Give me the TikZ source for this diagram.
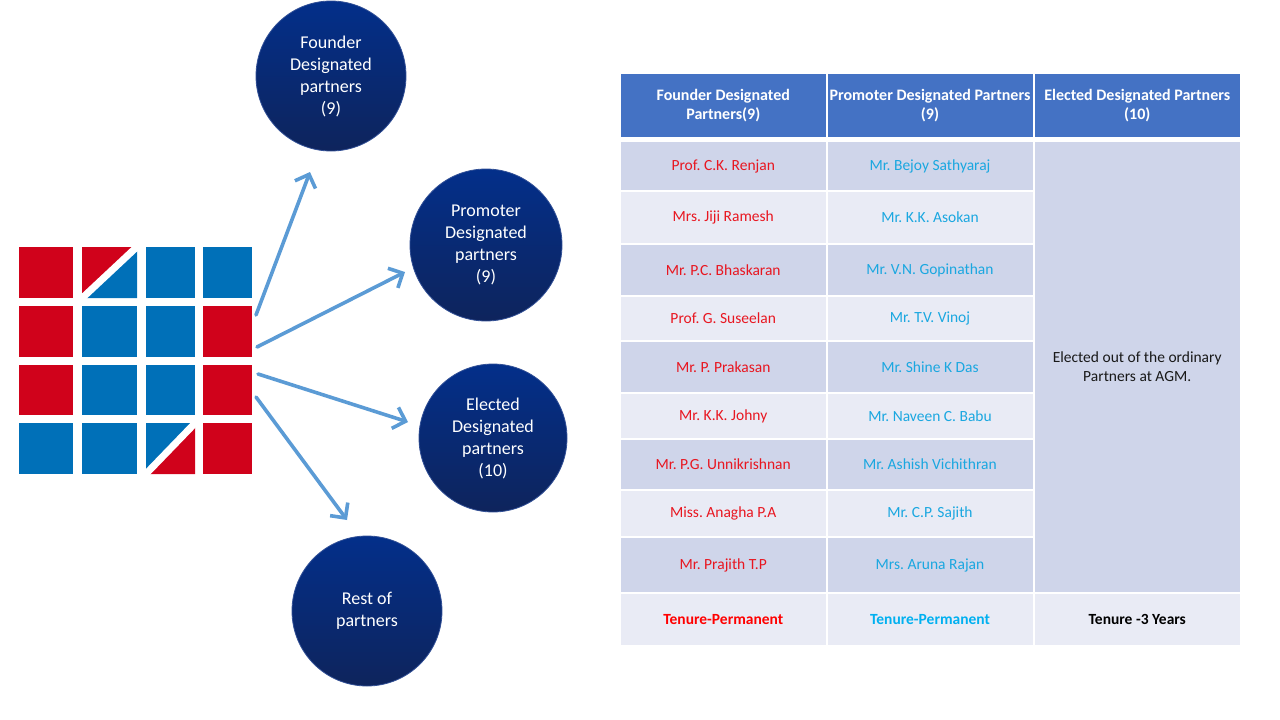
\documentclass[tikz,border=0pt]{standalone}
\usepackage{fontspec}
\setmainfont{Carlito}
\usetikzlibrary{arrows.meta}
\definecolor{lred}{RGB}{208,2,27}
\definecolor{lblue}{RGB}{0,112,184}
\definecolor{arrowc}{RGB}{91,155,213}
\definecolor{hdr}{RGB}{68,114,196}
\definecolor{rowd}{RGB}{207,213,234}
\definecolor{rowl}{RGB}{233,235,245}
\definecolor{namered}{RGB}{232,22,32}
\definecolor{nameblue}{RGB}{26,167,224}
\definecolor{tenred}{RGB}{255,0,0}
\definecolor{tenblue}{RGB}{0,176,240}
\definecolor{ctop}{RGB}{3,47,138}
\definecolor{cbot}{RGB}{14,36,92}
\definecolor{cedge}{RGB}{50,80,150}
\frenchspacing
\begin{document}
\begin{tikzpicture}[x=1pt,y=-1pt,
  circ/.style={circle, minimum size=#1, inner sep=0pt, top color=ctop, bottom color=cbot,
    draw=cedge, line width=0.8pt, text=white, align=center, font=\fontsize{18}{22}\selectfont},
  arr/.style={draw=arrowc, line width=3.6pt, line cap=round,
    -{Straight Barb[length=11pt,width=22pt]}},
  cell/.style={inner sep=0pt, align=center, font=\fontsize{15.5}{19}\selectfont},
  hcell/.style={cell, fill=hdr, text=white, font=\bfseries\fontsize{16}{19}\selectfont, minimum height=63pt},
  tcell/.style={cell, fill=rowl, font=\bfseries\fontsize{15.5}{19}\selectfont, minimum height=51pt},
  c1/.style={minimum width=204.5pt},
  c2/.style={minimum width=205pt},
  c3/.style={minimum width=205.5pt},
  cut/.style={draw=white, line width=7pt}
]
\path[use as bounding box] (0,0) rectangle (1280,720);

% ---------- logo ----------
\fill[lred]  (19,247) rectangle (73,298);
\fill[lred]  (82,247) rectangle (137,298);
\fill[lblue] (137,247) -- (137,298) -- (82,298) -- cycle;
\draw[cut]   (78,302) -- (141,243);
\fill[lblue] (146,247) rectangle (195,298);
\fill[lblue] (203,247) rectangle (252,298);

\fill[lred]  (19,306) rectangle (73,357);
\fill[lblue] (82,306) rectangle (137,357);
\fill[lblue] (146,306) rectangle (195,357);
\fill[lred]  (203,306) rectangle (252,357);

\fill[lred]  (19,365) rectangle (73,415);
\fill[lblue] (82,365) rectangle (137,415);
\fill[lblue] (146,365) rectangle (195,415);
\fill[lred]  (203,365) rectangle (252,415);

\fill[lblue] (19,423) rectangle (73,474);
\fill[lblue] (82,423) rectangle (137,474);
\fill[lblue] (146,423) rectangle (195,474);
\fill[lred]  (195,423) -- (195,474) -- (146,474) -- cycle;
\draw[cut]   (142,478) -- (199,419);
\fill[lred]  (203,423) rectangle (252,474);

% ---------- circles ----------
\node[circ=150pt] (fdp) at (331,76)  {Founder\\Designated\\partners\\(9)};
\node[circ=152pt] (pdp) at (486,245) {Promoter\\Designated\\partners\\(9)};
\node[circ=148pt] (edp) at (493,438) {Elected\\Designated\\partners\\(10)};
\node[circ=150pt] (rop) at (367,611) {Rest of\\partners};

% ---------- arrows ----------
\coordinate (s1) at (256,315);
\coordinate (s2) at (257,347);
\coordinate (s3) at (258,374);
\coordinate (s4) at (256,397);
\coordinate (e1) at (310,172);
\coordinate (e2) at (405,272);
\coordinate (e3) at (408,422);
\coordinate (e4) at (347,520);
\draw[arr] (s1) -- (e1);
\draw[arr] (s2) -- (e2);
\draw[arr] (s3) -- (e3);
\draw[arr] (s4) -- (e4);

% ---------- table ----------
\node[hcell,c1] (h1) at (723.25,105.5) {Founder Designated\\Partners(9)};
\node[hcell,c2] (h2) at (930,105.5)    {Promoter Designated Partners\\(9)};
\node[hcell,c3] (h3) at (1137.25,105.5) {Elected Designated Partners\\(10)};

\foreach \n/\yy/\hh/\cc/\fa/\pb in {
  1/166/48/rowd/Prof. C.K. Renjan/Mr. Bejoy Sathyaraj,
  2/217.5/51/rowl/Mrs. Jiji Ramesh/Mr. K.K. Asokan,
  3/270/50/rowd/Mr. P.C. Bhaskaran/Mr. V.N. Gopinathan,
  4/318.5/43/rowl/Prof. G. Suseelan/Mr. T.V. Vinoj,
  5/367/50/rowd/Mr. P. Prakasan/Mr. Shine K Das,
  6/416/44/rowl/Mr. K.K. Johny/Mr. Naveen C. Babu,
  7/464.5/49/rowd/Mr. P.G. Unnikrishnan/Mr. Ashish Vichithran,
  8/513.5/45/rowl/Miss. Anagha P.A/Mr. C.P. Sajith,
  9/565/54/rowd/Mr. Prajith T.P/Mrs. Aruna Rajan}{
  \node[cell,c1,fill=\cc,minimum height=\hh pt,text=namered] (f\n) at (723.25,\yy) {\fa};
  \node[cell,c2,fill=\cc,minimum height=\hh pt,text=nameblue] (p\n) at (930,\yy) {\pb};
}
\node[cell,c3,fill=rowd,minimum height=450pt,text=black!90] (el) at (1137.25,367)
  {Elected out of the ordinary\\Partners at AGM.};

\node[tcell,c1,text=tenred]  (t1) at (723.25,619.5) {Tenure-Permanent};
\node[tcell,c2,text=tenblue] (t2) at (930,619.5)    {Tenure-Permanent};
\node[tcell,c3,text=black]   (t3) at (1137.25,619.5) {Tenure -3 Years};
\end{tikzpicture}
\end{document}
